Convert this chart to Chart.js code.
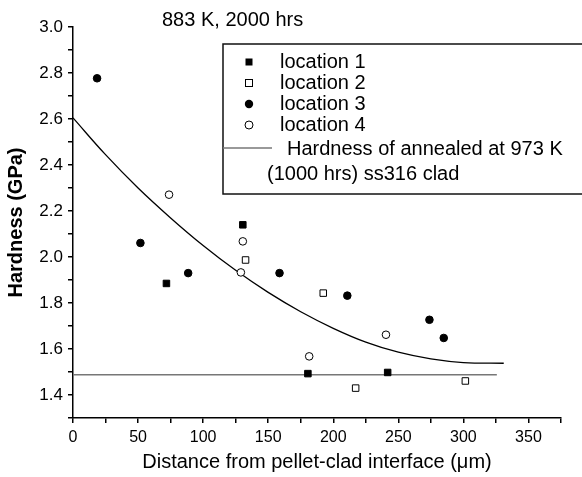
<!DOCTYPE html>
<html><head><meta charset="utf-8">
<script src="https://cdn.jsdelivr.net/npm/chart.js@4"></script>
<style>html,body{margin:0;padding:0;background:#fff}#wrap{width:582px;height:477px}</style>
</head><body><div id="wrap"><canvas id="c" width="582" height="477"></canvas></div>
<script>
// ---- data ----
const loc1X = [71.8, 130.5, 180.5, 241.8];
const loc1Y = [1.885, 2.140, 1.493, 1.498];
const loc2X = [132.6, 192.3, 217.2, 301.5];
const loc2Y = [1.987, 1.843, 1.430, 1.461];
const loc3X = [18.5, 51.8, 88.5, 158.7, 210.8, 273.9, 284.9];
const loc3Y = [2.777, 2.061, 1.930, 1.930, 1.832, 1.727, 1.648];
const loc4X = [73.8, 129.0, 130.5, 181.5, 240.5];
const loc4Y = [2.271, 1.933, 2.068, 1.568, 1.662];
const fitX = [0, 25, 50, 75, 100, 125, 150, 175, 200, 225, 250, 275, 300, 331];
const fitY = [2.605, 2.445, 2.300, 2.170, 2.050, 1.942, 1.846, 1.762, 1.690, 1.630, 1.586, 1.557, 1.541, 1.538];
const annealX = [0, 325.7];
const annealY = [1.488, 1.488];
const xTickValues = [0,25,50,75,100,125,150,175,200,225,250,275,300,325,350,375];
const xTickLabels = ['0','','50','','100','','150','','200','','250','','300','','350',''];
const yTickValues = [1.3,1.4,1.5,1.6,1.7,1.8,1.9,2.0,2.1,2.2,2.3,2.4,2.5,2.6,2.7,2.8,2.9,3.0];
const yTickLabels = ['','1.4','','1.6','','1.8','','2.0','','2.2','','2.4','','2.6','','2.8','','3.0'];
const seriesNames = ['location 1','location 2','location 3','location 4'];
const lineLegend = ['Hardness of annealed at 973 K','(1000 hrs) ss316 clad'];
const chartTitle = '883 K, 2000 hrs';
const xTitle = 'Distance from pellet-clad interface (\u03bcm)';
const yTitle = 'Hardness (GPa)';

const pts = (xs, ys) => xs.map((x, i) => ({x, y: ys[i]}));
const FONT = "'Liberation Sans', Arial, sans-serif";

const overlay = {
  id: 'overlay',
  afterDraw(chart) {
    const ctx = chart.ctx;
    ctx.save();
    ctx.fillStyle = '#000';
    ctx.font = '20px ' + FONT;
    ctx.textBaseline = 'middle';
    ctx.textAlign = 'left';
    ctx.fillText(chartTitle, 162, 20);
    // legend box
    ctx.strokeStyle = '#111';
    ctx.lineWidth = 1.5;
    ctx.strokeRect(223, 44, 400, 150);
    const mx = 249, tx = 280;
    const rows = [62, 83, 104, 125];
    ctx.lineWidth = 1;
    ctx.fillStyle = '#000';
    ctx.fillRect(mx - 3.5, rows[0] - 3.5, 7, 7);
    ctx.fillStyle = '#fff';
    ctx.fillRect(mx - 3.5, rows[1] - 3.5, 7, 7);
    ctx.strokeStyle = '#000';
    ctx.strokeRect(mx - 3.5, rows[1] - 3.5, 7, 7);
    ctx.fillStyle = '#000';
    ctx.beginPath(); ctx.arc(mx, rows[2], 4.2, 0, Math.PI * 2); ctx.fill();
    ctx.fillStyle = '#fff';
    ctx.beginPath(); ctx.arc(mx, rows[3], 4, 0, Math.PI * 2); ctx.fill(); ctx.stroke();
    ctx.fillStyle = '#000';
    seriesNames.forEach((n, i) => ctx.fillText(n, tx, rows[i]));
    ctx.strokeStyle = '#777';
    ctx.lineWidth = 1.3;
    ctx.beginPath(); ctx.moveTo(223, 148); ctx.lineTo(272, 148); ctx.stroke();
    ctx.fillText(lineLegend[0], 287, 149);
    ctx.fillText(lineLegend[1], 267, 174);
    ctx.restore();
  }
};

new Chart(document.getElementById('c'), {
  type: 'scatter',
  data: {
    datasets: [
      {label: seriesNames[0], data: pts(loc1X, loc1Y), pointStyle: 'rect', pointRadius: 4.6,
       backgroundColor: '#000', borderColor: '#000', borderWidth: 1},
      {label: seriesNames[1], data: pts(loc2X, loc2Y), pointStyle: 'rect', pointRadius: 4.6,
       backgroundColor: '#fff', borderColor: '#000', borderWidth: 1},
      {label: seriesNames[2], data: pts(loc3X, loc3Y), pointStyle: 'circle', pointRadius: 3.8,
       backgroundColor: '#000', borderColor: '#000', borderWidth: 1},
      {label: seriesNames[3], data: pts(loc4X, loc4Y), pointStyle: 'circle', pointRadius: 3.8,
       backgroundColor: '#fff', borderColor: '#000', borderWidth: 1},
      {label: 'fit', data: pts(fitX, fitY), showLine: true, pointRadius: 0, borderColor: '#000',
       borderWidth: 1.3, tension: 0.4, fill: false},
      {label: lineLegend.join(' '), data: pts(annealX, annealY), showLine: true, pointRadius: 0,
       borderColor: '#777', borderWidth: 1.5, fill: false}
    ]
  },
  options: {
    responsive: false,
    animation: false,
    devicePixelRatio: 1,
    layout: {padding: {top: 27, right: 21, left: 0, bottom: 0}},
    plugins: {legend: {display: false}, tooltip: {enabled: false}},
    scales: {
      x: {
        type: 'linear', min: 0, max: 375,
        afterBuildTicks: s => { s.ticks = xTickValues.map(v => ({value: v})); },
        afterFit: s => { s.height = 59; },
        ticks: {autoSkip: false, maxRotation: 0, color: '#000', padding: 5,
                font: {family: FONT, size: 16},
                callback: (v, i) => xTickLabels[i]},
        grid: {display: true, drawOnChartArea: false, drawTicks: true, tickLength: 5,
               color: '#000', lineWidth: 1.5},
        border: {display: true, color: '#000', width: 1.5},
        title: {display: true, text: xTitle, color: '#000',
                font: {family: FONT, size: 20}, padding: {top: 0, bottom: 3}}
      },
      y: {
        type: 'linear', min: 1.3, max: 3.0,
        afterBuildTicks: s => { s.ticks = yTickValues.map(v => ({value: v})); },
        afterFit: s => { s.width = 73; },
        ticks: {autoSkip: false, color: '#000', padding: 5,
                font: {family: FONT, size: 17},
                callback: (v, i) => yTickLabels[i]},
        grid: {display: true, drawOnChartArea: false, drawTicks: true, tickLength: 5,
               color: '#000', lineWidth: 1.5},
        border: {display: true, color: '#000', width: 1.5},
        title: {display: true, text: yTitle, color: '#000',
                font: {family: FONT, size: 20, weight: 'bold'}, padding: {top: 4, bottom: 4}}
      }
    }
  },
  plugins: [overlay]
});
</script></body></html>
